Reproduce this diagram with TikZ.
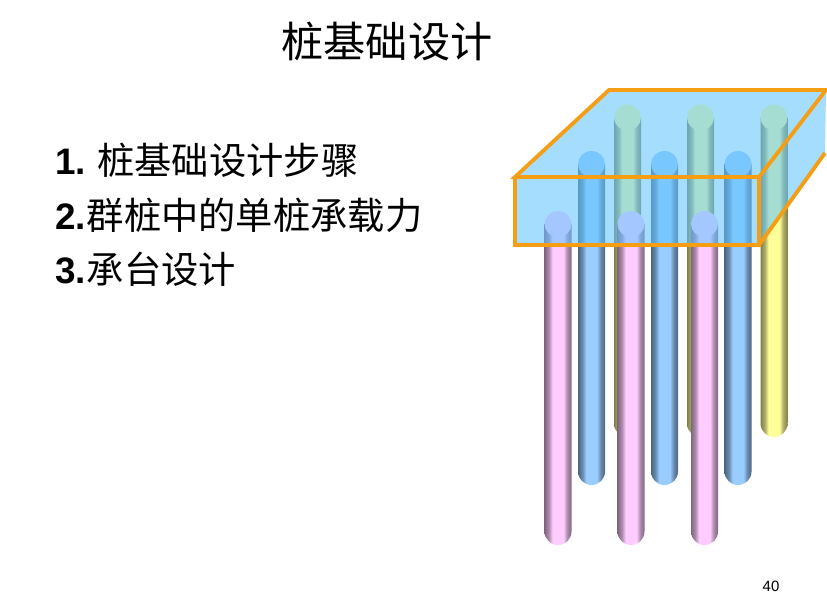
\documentclass[tikz,border=0pt]{standalone}
\usepackage{fontspec}
\setmainfont{Liberation Sans}
\newfontfamily\cjk{Noto Sans CJK SC}
\definecolor{pk}{RGB}{255,204,255}
\definecolor{bl}{RGB}{153,204,255}
\definecolor{yl}{RGB}{255,255,153}
\definecolor{capblue}{RGB}{96,196,255}
\definecolor{caporange}{RGB}{245,158,20}
\pgfdeclarehorizontalshading{pilepink}{100bp}{color(0bp)=(pk!50!black);color(25bp)=(pk!50!black);color(33bp)=(pk!68!black);color(40bp)=(pk);color(60bp)=(pk);color(67bp)=(pk!68!black);color(75bp)=(pk!50!black);color(100bp)=(pk!50!black)}
\pgfdeclarehorizontalshading{pileblue}{100bp}{color(0bp)=(bl!50!black);color(25bp)=(bl!50!black);color(33bp)=(bl!68!black);color(40bp)=(bl);color(60bp)=(bl);color(67bp)=(bl!68!black);color(75bp)=(bl!50!black);color(100bp)=(bl!50!black)}
\pgfdeclarehorizontalshading{pileyellow}{100bp}{color(0bp)=(yl!50!black);color(25bp)=(yl!50!black);color(33bp)=(yl!68!black);color(40bp)=(yl);color(60bp)=(yl);color(67bp)=(yl!68!black);color(75bp)=(yl!50!black);color(100bp)=(yl!50!black)}
\newcommand{\pile}[5]{% x, top y, bottom y, shading, colour
  \shade[shading=#4,shading angle=0] (#1-13.5,#2) -- (#1-13.5,#3-13.5)
     arc[start angle=180,end angle=0,radius=13.5] -- (#1+13.5,#2) -- cycle;
  \fill[#5] (#1,#2) ellipse[x radius=13.5,y radius=13];
}
\newcommand{\itemcjk}[1]{{\cjk\fontsize{37.4}{40}\selectfont #1}}
\begin{document}
\begin{tikzpicture}[x=1bp,y=-1bp,
  titletext/.style={font=\cjk\fontsize{42.3}{46}\selectfont,inner sep=0,anchor=center},
  itemtext/.style={font=\fontsize{37}{40}\selectfont,inner sep=0,anchor=west},
  pagenum/.style={font=\fontsize{15}{18}\selectfont,inner sep=0,anchor=center},
  capedge/.style={draw=caporange,line width=3.8bp,line join=miter}]
\useasboundingbox (0,0) rectangle (827,603);
\fill[white] (0,0) rectangle (827,603);
\node[titletext] (title) at (387,41) {桩基础设计};
\node[itemtext] (itema) at (55,160) {\textbf{1.}\hspace{11.5bp}\itemcjk{桩基础设计步骤}};
\node[itemtext] (itemb) at (55,215) {\textbf{2.}\hspace{1bp}\itemcjk{群桩中的单桩承载力}};
\node[itemtext] (itemc) at (55,269) {\textbf{3.}\hspace{1bp}\itemcjk{承台设计}};
\node[pagenum] (page) at (771,586) {40};
\pile{627.5}{117.5}{437}{pileyellow}{yl}
\pile{700.5}{117.5}{437}{pileyellow}{yl}
\pile{774}{117.5}{437}{pileyellow}{yl}
\pile{591.5}{164}{485}{pileblue}{bl}
\pile{664.5}{164}{485}{pileblue}{bl}
\pile{738}{164}{485}{pileblue}{bl}
\pile{558}{224}{545}{pilepink}{pk}
\pile{631}{224}{545}{pilepink}{pk}
\pile{704.5}{224}{545}{pilepink}{pk}
\fill[capblue,fill opacity=.56] (515,177) -- (609,90) -- (826,90) -- (825,153) -- (759,245) -- (515,245) -- cycle;
\draw[capedge] (515,177) -- (609,90) -- (826,90) -- (759,177) -- cycle;
\draw[capedge] (515,177) -- (515,245) -- (759,245) -- (759,177);
\draw[capedge] (759,245) -- (825,153);
\end{tikzpicture}
\end{document}
